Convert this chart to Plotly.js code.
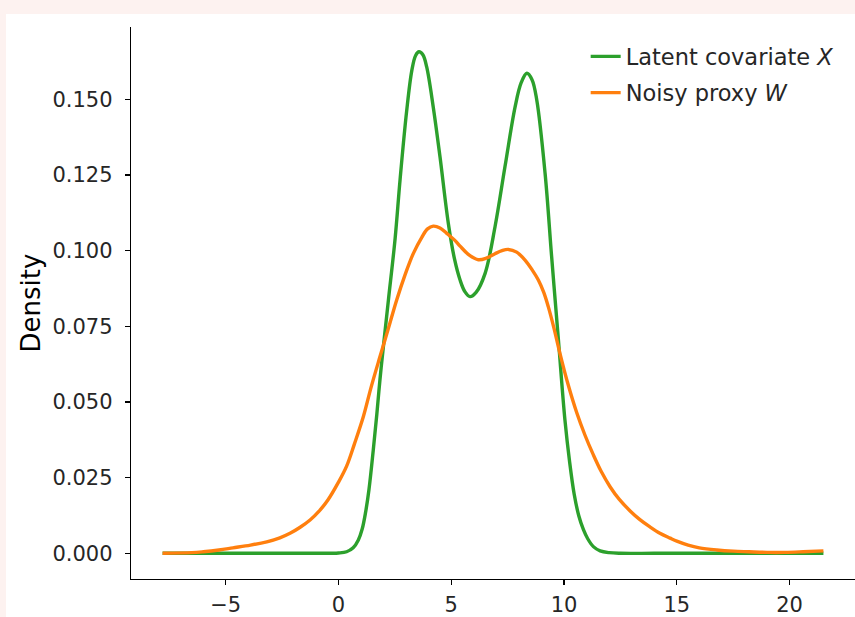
<!DOCTYPE html>
<html>
<head>
<meta charset="utf-8">
<script src="https://cdn.plot.ly/plotly-3.0.1.min.js"></script>
<style>
  html, body { margin: 0; padding: 0; background: #fdf2f0; overflow: hidden; }
  #chart { position: absolute; left: 6px; top: 14px; width: 849px; height: 603px; }
</style>
</head>
<body>
<div id="chart"></div>
<script>
// Latent covariate X (density estimate)
const latentX = [-7.8, -6, -4, -2, -1, 0, 0.36, 0.65, 0.88, 1.05, 1.2, 1.35, 1.54, 1.7, 1.84, 2.0, 2.21, 2.51, 2.73, 3.02, 3.25, 3.42, 3.57, 3.74, 3.91, 4.2, 4.5, 4.87, 5.15, 5.39, 5.6, 5.83, 6.1, 6.5, 6.94, 7.38, 7.83, 8.1, 8.35, 8.58, 8.79, 9.16, 9.45, 9.75, 10.04, 10.25, 10.45, 10.65, 10.86, 11.05, 11.3, 11.6, 12.0, 12.5, 14, 16, 18, 20, 21.5];
const latentY = [0, 0, 0, 0, 0, 0.0001, 0.0005, 0.0018, 0.0044, 0.008, 0.0135, 0.021, 0.034, 0.046, 0.0575, 0.069, 0.0835, 0.104, 0.1235, 0.146, 0.1595, 0.1645, 0.1657, 0.1647, 0.1607, 0.1475, 0.131, 0.109, 0.097, 0.0903, 0.0865, 0.0848, 0.0862, 0.0925, 0.1079, 0.1277, 0.1475, 0.1555, 0.1586, 0.1565, 0.1498, 0.1255, 0.098, 0.0705, 0.044, 0.03, 0.0195, 0.0125, 0.0078, 0.0048, 0.0022, 0.0008, 0.0002, 0, 0, 0, 0, 0, 0];

// Noisy proxy W
const proxyX = [-7.8, -6.5, -6, -5.3, -4.68, -3.9, -3.18, -2.6, -2.15, -1.7, -1.26, -0.85, -0.47, 0, 0.36, 0.7, 1.1, 1.45, 1.84, 2.2, 2.58, 2.95, 3.32, 3.7, 3.95, 4.2, 4.5, 4.8, 5.17, 5.39, 5.8, 6.2, 6.55, 6.94, 7.25, 7.53, 7.9, 8.27, 8.6, 8.86, 9.1, 9.3, 9.55, 9.82, 10.19, 10.56, 10.93, 11.3, 11.65, 12.04, 12.45, 12.93, 13.35, 13.81, 14.25, 14.7, 15.0, 15.5, 16.0, 16.77, 17.5, 18.2, 19.0, 19.8, 20.6, 21.5];
const proxyY = [0, 0.0002, 0.0005, 0.0011, 0.0018, 0.0027, 0.0038, 0.0051, 0.0066, 0.0086, 0.011, 0.014, 0.0176, 0.0235, 0.0288, 0.036, 0.0451, 0.055, 0.065, 0.074, 0.0837, 0.092, 0.0991, 0.1045, 0.1072, 0.1081, 0.1075, 0.1057, 0.1033, 0.1015, 0.0985, 0.097, 0.0975, 0.099, 0.1, 0.1004, 0.0995, 0.0969, 0.0935, 0.0903, 0.0862, 0.0815, 0.0745, 0.066, 0.0555, 0.0465, 0.039, 0.0325, 0.027, 0.022, 0.0178, 0.014, 0.0112, 0.0087, 0.0066, 0.005, 0.004, 0.0027, 0.0018, 0.0011, 0.0007, 0.0005, 0.0003, 0.0003, 0.0005, 0.0008];

const seriesNames = ['Latent covariate <i>X</i>', 'Noisy proxy <i>W</i>'];
const yTicks = [0, 0.025, 0.05, 0.075, 0.1, 0.125, 0.15];
const xTicks = [-5, 0, 5, 10, 15, 20];

const font = "'DejaVu Sans', sans-serif";

const traces = [
  { x: latentX, y: latentY, name: seriesNames[0], legendgroup: 'a', type: 'scatter', mode: 'lines',
    line: { color: '#2ca02c', width: 3.4, shape: 'spline', smoothing: 1 } },
  { x: proxyX, y: proxyY, name: seriesNames[1], legendgroup: 'b', type: 'scatter', mode: 'lines',
    line: { color: '#ff7f0e', width: 3.4, shape: 'spline', smoothing: 1 } }
];

const layout = {
  width: 849, height: 603,
  margin: { l: 125, r: 0, t: 13, b: 38 },
  paper_bgcolor: '#ffffff', plot_bgcolor: '#ffffff',
  font: { family: font, size: 21, color: '#262626' },
  showlegend: true,
  legend: { x: 0.628, y: 0.985, xanchor: 'left', yanchor: 'top',
            tracegroupgap: 4,
            bgcolor: 'rgba(255,255,255,0)', borderwidth: 0,
            font: { family: font, size: 22.5, color: '#262626' } },
  xaxis: {
    range: [-9.2, 22.9], tickvals: xTicks, showgrid: false, zeroline: false,
    showline: true, linecolor: '#000', linewidth: 1.2,
    ticks: 'outside', ticklen: 5, tickwidth: 1.2, tickcolor: '#000',
    tickfont: { family: font, size: 21, color: '#262626' }, ticklabelstandoff: 2
  },
  yaxis: {
    range: [-0.0085, 0.1739], tickvals: yTicks, tickformat: '.3f',
    showgrid: false, zeroline: false,
    showline: true, linecolor: '#000', linewidth: 1.2,
    ticks: 'outside', ticklen: 5, tickwidth: 1.2, tickcolor: '#000',
    tickfont: { family: font, size: 21, color: '#262626' }, ticklabelstandoff: 8,
    title: { text: 'Density', font: { family: font, size: 26, color: '#000' }, standoff: 4 }
  }
};

Plotly.newPlot('chart', traces, layout, { displayModeBar: false, staticPlot: true });
</script>
</body>
</html>
